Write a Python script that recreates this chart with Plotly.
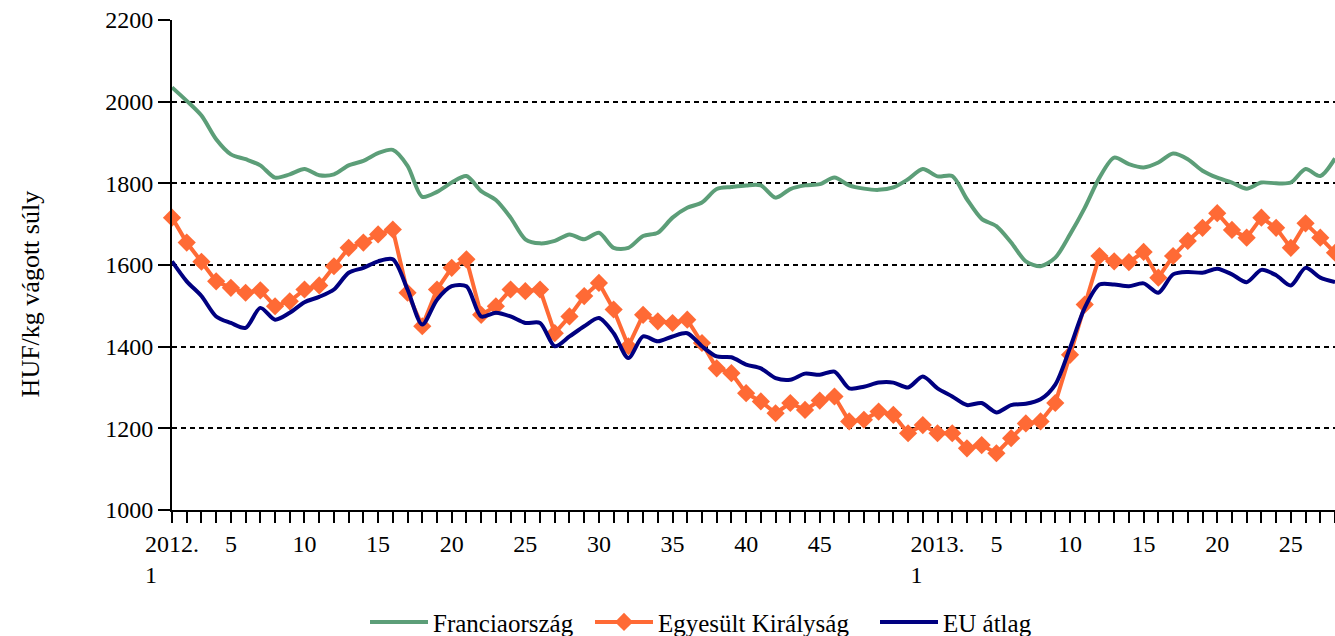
import plotly.graph_objects as go

# Categories: weeks 2012 (1-52) and 2013 (1-28)
weeks_2012 = list(range(1, 53))
weeks_2013 = list(range(1, 29))
categories = [f"2012. {w}" for w in weeks_2012] + [f"2013. {w}" for w in weeks_2013]

# Tick labels shown on the axis (blank means tick without label)
NB = "\u00a0"
tick_labels_2012 = ["2012.<br>1" + NB * 7] + [str(w) if w % 5 == 0 and w < 50 else "" for w in weeks_2012[1:]]
tick_labels_2013 = ["2013.<br>1" + NB * 7] + [str(w) if w % 5 == 0 else "" for w in weeks_2013[1:]]
tick_labels = tick_labels_2012 + tick_labels_2013

france = [2035, 2002, 1966, 1908, 1871, 1859, 1844, 1814, 1822, 1835,
          1820, 1822, 1844, 1855, 1874, 1882, 1843, 1767, 1779, 1802,
          1818, 1781, 1759, 1716, 1663, 1653, 1659, 1675, 1663, 1679,
          1642, 1642, 1671, 1679, 1716, 1740, 1753, 1786, 1791, 1795,
          1795, 1765, 1786, 1795, 1798, 1814, 1795, 1787, 1784, 1790,
          1810, 1835, 1817, 1818, 1761, 1713, 1695, 1655, 1609, 1597,
          1618, 1675, 1740, 1814, 1863, 1847, 1839, 1851, 1873, 1859,
          1831, 1814, 1802, 1787, 1802, 1800, 1802, 1835, 1818, 1861]

uk = [1716, 1655, 1608, 1560, 1544, 1532, 1538, 1499, 1511, 1540,
      1550, 1597, 1642, 1655, 1675, 1687, 1532, 1450, 1540, 1593,
      1614, 1478, 1499, 1540, 1536, 1540, 1433, 1474, 1524, 1556,
      1491, 1401, 1478, 1462, 1458, 1466, 1409, 1347, 1335, 1286,
      1266, 1237, 1262, 1245, 1268, 1278, 1217, 1221, 1241, 1233,
      1188, 1208, 1188, 1188, 1151, 1159, 1139, 1176, 1212, 1217,
      1262, 1380, 1503, 1622, 1609, 1607, 1632, 1569, 1622, 1659,
      1691, 1727, 1686, 1667, 1716, 1691, 1642, 1702, 1667, 1630]

eu = [1609, 1560, 1524, 1474, 1458, 1446, 1495, 1466, 1483, 1509,
      1522, 1540, 1581, 1593, 1609, 1614, 1540, 1454, 1515, 1548,
      1548, 1474, 1483, 1474, 1458, 1458, 1401, 1425, 1450, 1470,
      1433, 1372, 1425, 1413, 1425, 1433, 1401, 1376, 1374, 1356,
      1347, 1323, 1319, 1334, 1331, 1339, 1298, 1302, 1312, 1312,
      1300, 1327, 1298, 1278, 1257, 1262, 1239, 1257, 1260, 1271,
      1307, 1397, 1495, 1552, 1552, 1548, 1555, 1532, 1577, 1583,
      1581, 1591, 1577, 1558, 1588, 1575, 1550, 1593, 1569, 1558]

x = list(range(len(categories)))
FONT = "Liberation Serif, Times New Roman, serif"

fig = go.Figure()
fig.add_trace(go.Scatter(x=x, y=france, name="Franciaország", mode="lines",
                         line=dict(color="#5C9E78", width=4, shape="spline", smoothing=0.8),
                         customdata=categories, cliponaxis=False, legendwidth=152))
fig.add_trace(go.Scatter(x=x, y=uk, name="Egyesült Királyság", mode="lines+markers",
                         line=dict(color="#FF6A35", width=4),
                         marker=dict(symbol="diamond", size=14, color="#FF6A35"),
                         customdata=categories, cliponaxis=False, legendwidth=212))
fig.add_trace(go.Scatter(x=x, y=eu, name="EU átlag", mode="lines",
                         line=dict(color="#000080", width=4, shape="spline", smoothing=0.8),
                         customdata=categories, cliponaxis=False, legendwidth=95))

fig.update_layout(
    width=1335, height=636,
    margin=dict(l=172, r=0, t=20, b=126, autoexpand=False),
    paper_bgcolor="white", plot_bgcolor="white",
    font=dict(family=FONT, size=24, color="black"),
    showlegend=True,
    legend=dict(orientation="h", x=(365 - 172) / 1163, xanchor="left", y=-0.229, yanchor="middle",
                font=dict(family=FONT, size=25, color="black"), itemwidth=58,
                bgcolor="rgba(0,0,0,0)"),
    xaxis=dict(range=[0, 79], tickmode="array", tickvals=x, ticktext=tick_labels,
               tickangle=0, showgrid=False, zeroline=False, showline=True,
               linecolor="black", linewidth=2, ticks="outside", ticklen=11,
               tickwidth=1.5, tickcolor="black", tickfont=dict(size=24), automargin=False),
    yaxis=dict(range=[1000, 2200], dtick=200, showgrid=True, gridcolor="black",
               gridwidth=2, griddash="5px,4px", zeroline=False, showline=True,
               linecolor="black", linewidth=2, ticks="outside", ticklen=12,
               tickwidth=2, tickcolor="black", tickfont=dict(size=24), automargin=False),
)
fig.add_annotation(text="HUF/kg vágott súly", xref="paper", yref="paper",
                   x=(30 - 172) / 1163, y=0.44, xanchor="center", yanchor="middle",
                   textangle=-90, showarrow=False, font=dict(family=FONT, size=26))

fig.write_html("out.html", config={"displayModeBar": False},
               post_script="document.body.style.margin='0';")
